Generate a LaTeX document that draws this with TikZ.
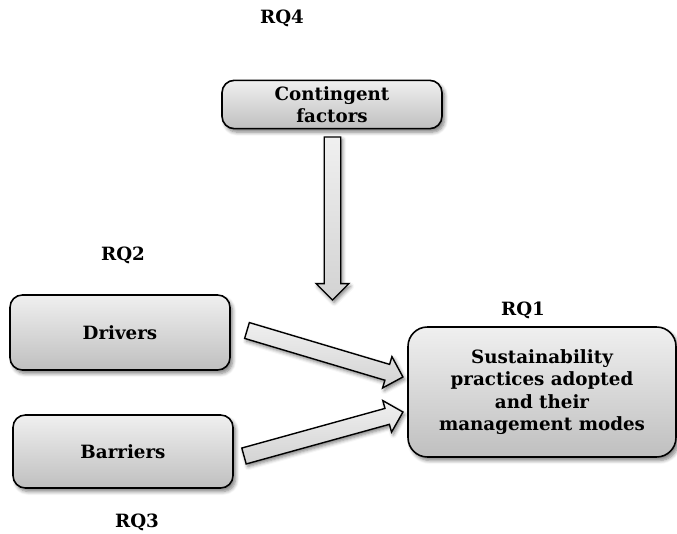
\documentclass[tikz,border=0pt]{standalone}
\usepackage{fontspec}
\setmainfont{DejaVu Serif}
\usetikzlibrary{shapes.arrows,shadows.blur,calc}

\newcommand\rqfont{\fontsize{10.4}{12.8}\selectfont\bfseries}
\newcommand\blockarrow[2]{%
	\path let \p1=($(#2)-(#1)$), \n1={atan2(\y1,\x1)}, \n2={veclen(\x1,\y1)} in
		node[flowarrow, minimum height=\n2, rotate=\n1, anchor=tail] at (#1) {};}

\tikzset{
	rqbox/.style={draw=black, line width=0.9pt, rounded corners=7pt, top color=gray!12, bottom color=gray!50,
		minimum width=4.4cm, minimum height=0.9cm, align=center, font=\rqfont,
		blur shadow={shadow xshift=1.5pt, shadow yshift=-2pt, shadow blur steps=6, shadow opacity=50}},
	rqlabel/.style={font=\rqfont},
	flowarrow/.style={single arrow, draw=black, line width=0.8pt, top color=gray!12, bottom color=gray!35,
		single arrow head extend=4.6pt, inner xsep=0pt, inner ysep=4.3pt, outer sep=0pt,
		blur shadow={shadow xshift=1pt, shadow yshift=-1.5pt, shadow blur steps=4, shadow opacity=50}}
}

\begin{document}
\begin{tikzpicture}[x=0.02cm, y=-0.02cm]
	\useasboundingbox (0,0) rectangle (677,534);
	% boxes
	\node[rqbox] (contingent) at (332,104.5) {Contingent\\factors};
	\node[rqbox, minimum height=1.5cm] (drivers) at (120,332.5) {Drivers};
	\node[rqbox, minimum height=1.46cm] (barriers) at (123,451.5) {Barriers};
	\node[rqbox, minimum width=5.36cm, minimum height=2.6cm, rounded corners=11pt] (practices) at (542,392)
		{Sustainability\\practices adopted\\and their\\management modes};
	% labels
	\node[rqlabel] (rq4) at (282,18) {RQ4};
	\node[rqlabel] (rq2) at (123,255) {RQ2};
	\node[rqlabel] (rq1) at (523,310) {RQ1};
	\node[rqlabel] (rq3) at (137,522) {RQ3};
	% arrows
	\coordinate (ctail) at (332.5,137);
	\coordinate (chead) at (332.5,300);
	\coordinate (dtail) at (247,330.5);
	\coordinate (dhead) at (403,377);
	\coordinate (btail) at (244,456);
	\coordinate (bhead) at (403,412);
	\blockarrow{ctail}{chead}
	\blockarrow{dtail}{dhead}
	\blockarrow{btail}{bhead}
\end{tikzpicture}
\end{document}
